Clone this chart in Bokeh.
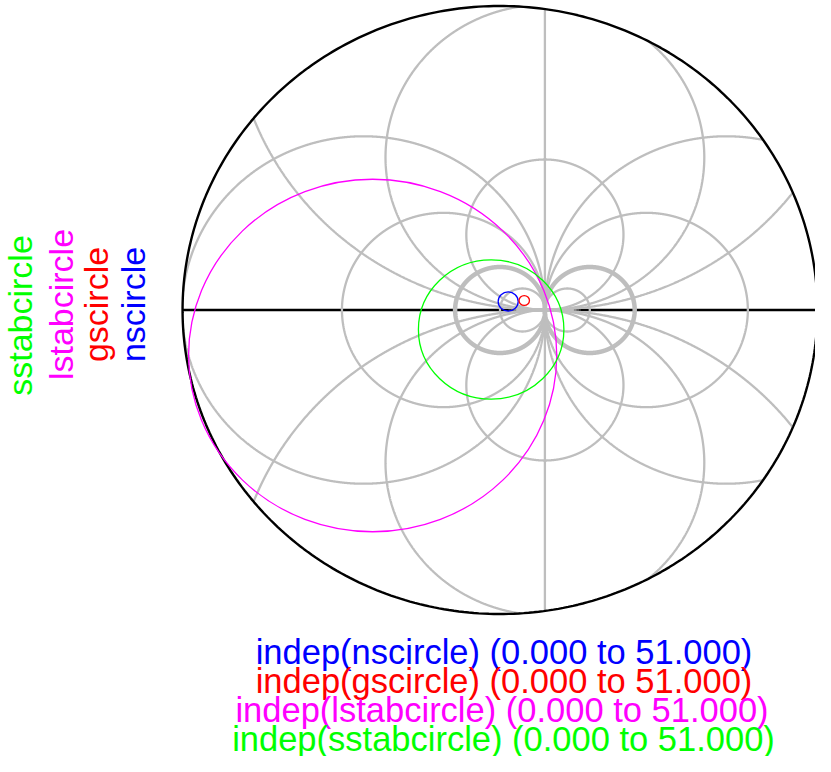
import numpy as np
from bokeh.plotting import figure
from bokeh.models import Range1d
from bokeh.core.properties import value
from bokeh.embed import file_html
from bokeh.resources import INLINE

# ---------------- data (reflection-coefficient plane) ----------------
series = ["nscircle", "gscircle", "lstabcircle", "sstabcircle"]
colors = ["#0000ff", "#ff0000", "#ff00ff", "#00ff00"]
center_re = [0.182, 0.540, -2.836, -0.197]
center_im = [0.198, 0.221, -1.058, -0.453]
radius = [0.223, 0.116, 4.10, 1.62]
indep_start = [0.0, 0.0, 0.0, 0.0]
indep_stop = [51.0, 51.0, 51.0, 51.0]

# chart grid parameters
rmax = 7.07
res_radii = [0.5, 1.0, 2.26, 4.04]     # real-part circles (both sides of Gamma=1)
res_thick = [False, True, False, False]
react_radii = [1.75, 3.55, 6.95]       # imaginary-part arcs (above and below)

# ---------------- layout helpers (page pixels) ----------------
W, H = 815, 756
CXP, CYP = 499.5, 309.5       # pixel of chart centre
SX, SY = 44.9, 43.0           # pixels per unit


def px2x(px):
    return (px - CXP) / SX


def py2y(py):
    return (CYP - py) / SY


p = figure(width=W, height=H, output_backend="svg", toolbar_location=None,
           x_axis_type=None, y_axis_type=None, min_border=0,
           x_range=Range1d(px2x(0), px2x(W)),
           y_range=Range1d(py2y(H), py2y(0)))
p.outline_line_color = None
p.background_fill_color = "white"
p.border_fill_color = "white"

GRAY = "#bebebe"


def clipped_circle(cx, cy, r, n=3000):
    t = np.linspace(0, 2 * np.pi, n)
    x = cx + r * np.cos(t)
    y = cy + r * np.sin(t)
    inside = np.hypot(x, y) <= rmax
    xs, ys = [], []
    cur_x, cur_y = [], []
    for xi, yi, ok in zip(x, y, inside):
        if ok:
            cur_x.append(xi)
            cur_y.append(yi)
        elif cur_x:
            xs.append(cur_x)
            ys.append(cur_y)
            cur_x, cur_y = [], []
    if cur_x:
        if xs and inside[0]:
            xs[0] = cur_x + xs[0]
            ys[0] = cur_y + ys[0]
        else:
            xs.append(cur_x)
            ys.append(cur_y)
    return xs, ys


# horizontal real axis (black, under the grid)
p.line([-rmax, rmax], [0, 0], line_color="black", line_width=2.4)

# grid
gx, gy = [], []
tx, ty = [], []
for r, th in zip(res_radii, res_thick):
    for cx in (1 - r, 1 + r):
        xs, ys = clipped_circle(cx, 0.0, r)
        if th:
            tx += xs
            ty += ys
        else:
            gx += xs
            gy += ys
for r in react_radii:
    for cy in (r, -r):
        xs, ys = clipped_circle(1.0, cy, r)
        gx += xs
        gy += ys
yv = np.sqrt(rmax ** 2 - 1.0)
gx.append([1.0, 1.0])
gy.append([-yv, yv])
p.multi_line(gx, gy, line_color=GRAY, line_width=2.3)
p.multi_line(tx, ty, line_color=GRAY, line_width=4.5)

# outer circle
t = np.linspace(0, 2 * np.pi, 400)
p.line(rmax * np.cos(t), rmax * np.sin(t), line_color="black", line_width=2.4)

# data circles
p.ellipse(x=center_re, y=center_im,
          width=[2 * r for r in radius], height=[2 * r for r in radius],
          fill_color=None, line_color=colors, line_width=1.3)

FONT = value("Liberation Sans")

# left rotated labels (anchor = alphabetic baseline)
lab_x = [132, 95, 60, 19]
lab_y = [304, 304, 304, 315]
p.text(x=[px2x(v) for v in lab_x], y=[py2y(v) for v in lab_y], text=series,
       angle=np.pi / 2, text_color=colors, text_font=FONT,
       text_font_size=value("34px"),
       text_align="center", text_baseline="alphabetic")

# bottom labels
bot_text = ["indep(%s) (%.3f to %.3f)" % (s, a, b)
            for s, a, b in zip(series, indep_start, indep_stop)]
bot_x = [503.5, 503.5, 501.5, 503]
bot_y = [651, 680, 709, 738]
p.text(x=[px2x(v) for v in bot_x], y=[py2y(v) for v in bot_y], text=bot_text,
       text_color=colors, text_font=FONT, text_font_size=value("34.5px"),
       text_align="center", text_baseline="alphabetic")

open("out.html", "w").write(file_html(p, INLINE))
